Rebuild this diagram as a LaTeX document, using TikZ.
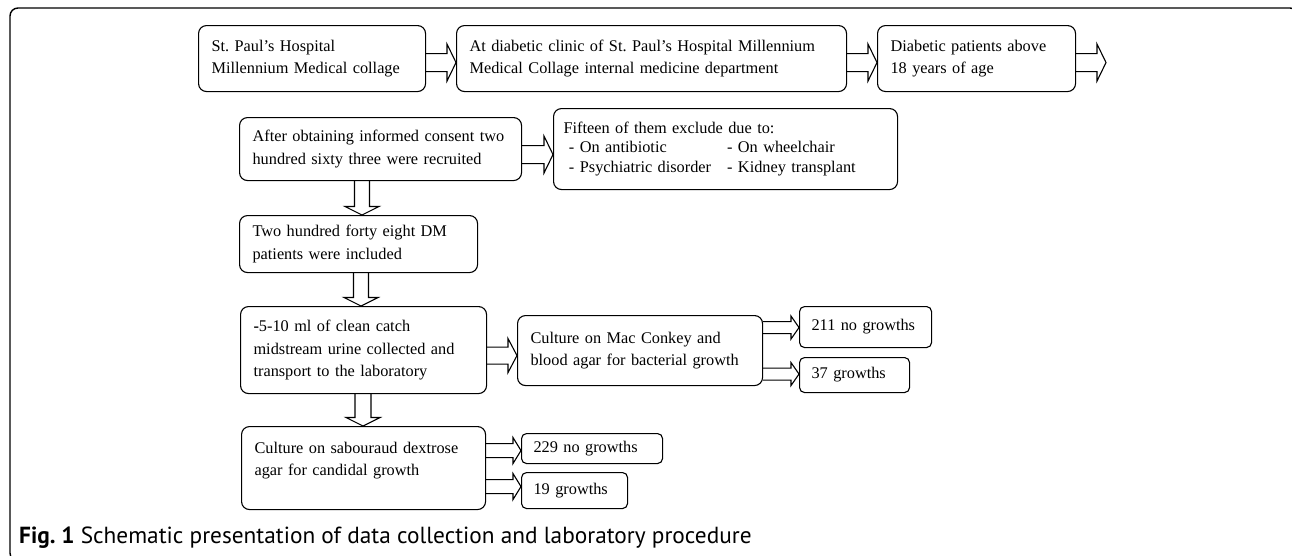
\documentclass[tikz,border=0pt]{standalone}
\usepackage{fontspec}
\setmainfont{Liberation Serif}
\newfontfamily\capfont{PT Sans}
\usepackage{tikz}
\usetikzlibrary{calc}

\newcommand{\harrow}[5]{\draw[arrowline] let \p1=(#1), \p2=(#2) in (\x1,\y1+#3pt) -- (\x2-#5pt,\y1+#3pt) -- (\x2-#5pt,\y1+#4pt) -- (\x2,\y1) -- (\x2-#5pt,\y1-#4pt) -- (\x2-#5pt,\y1-#3pt) -- (\x1,\y1-#3pt);}
\newcommand{\varrow}[5]{\draw[arrowline] let \p1=(#1), \p2=(#2) in (\x1-#3pt,\y1) -- (\x1-#3pt,\y2+#5pt) -- (\x1-#4pt,\y2+#5pt) -- (\x1,\y2) -- (\x1+#4pt,\y2+#5pt) -- (\x1+#3pt,\y2+#5pt) -- (\x1+#3pt,\y1);}

\begin{document}
\begin{tikzpicture}[x=1pt,y=-1pt,
  procbox/.style={draw=black,line width=1.1pt,rounded corners=8pt,anchor=north west,align=left,inner xsep=13pt,inner ysep=0pt,font=\fontsize{16.3}{22.5}\selectfont},
  smallbox/.style={procbox,rounded corners=5pt,inner xsep=12pt},
  arrowline/.style={draw=black,line width=1.1pt,line join=miter}]
\useasboundingbox (0,0) rectangle (1292,555);
\clip (0,0) rectangle (1292,555);
\draw[black,line width=1.4pt,rounded corners=8pt] (10,8) rectangle (1298,561);

\node[procbox,text width=201pt,minimum height=66pt] (hosp) at (198,25) {St.\ Paul's Hospital\\Millennium Medical collage};
\node[procbox,text width=364pt,minimum height=66pt] (clinic) at (456,25) {At diabetic clinic of St.\ Paul's Hospital Millennium\\Medical Collage internal medicine department};
\node[procbox,text width=172pt,minimum height=66pt] (adult) at (877,25) {Diabetic patients above\\18 years of age};
\coordinate (next) at (1106,62);

\node[procbox,text width=256pt,minimum height=63pt] (consent) at (239,117) {After obtaining informed consent two\\hundred sixty three were recruited};
\node[procbox,minimum height=81pt,inner xsep=10pt,text width=324pt,font=\fontsize{16.3}{19.5}\selectfont] (excl) at (553,108) {\setlength{\tabcolsep}{8pt}\begin{tabular}{@{}ll@{}}\multicolumn{2}{@{}l@{}}{Fifteen of them exclude due to:}\\ \ - On antibiotic & - On wheelchair\\ \ - Psychiatric disorder & - Kidney transplant\end{tabular}};

\node[procbox,text width=212pt,minimum height=57pt] (incl) at (239,215) {Two hundred forty eight DM\\patients were included};
\node[procbox,text width=220pt,minimum height=87pt] (urine) at (240,306) {\textbf{-}5-10 ml of clean catch\\midstream urine collected and\\transport to the laboratory};
\node[procbox,text width=219pt,minimum height=70pt] (bact) at (517,315) {Culture on Mac Conkey and\\blood agar for bacterial growth};
\node[smallbox,text width=108pt,minimum height=41pt] (bneg) at (799,306) {211 no growths};
\node[smallbox,text width=86pt,minimum height=35pt] (bpos) at (799,357) {37 growths};

\node[procbox,text width=218pt,minimum height=83pt] (cand) at (241,426) {Culture on sabouraud dextrose\\agar for candidal growth\\[-4pt]\mbox{}};
\node[smallbox,text width=117pt,minimum height=30pt] (cneg) at (521,433) {229 no growths};
\node[smallbox,text width=82pt,minimum height=36pt] (cpos) at (521,472) {19 growths};

\harrow{[yshift=-4pt]hosp.east}{clinic.west}{9}{18.5}{9}
\harrow{[yshift=-4pt]clinic.east}{adult.west}{9}{18.5}{9}
\harrow{[yshift=-4pt]adult.east}{next}{9}{18.5}{9}
\harrow{[yshift=-5.5pt]consent.east}{excl.west}{9}{18.5}{9}
\varrow{362,0 |- consent.south}{incl.north}{7.5}{17}{8.5}
\varrow{361,0 |- incl.south}{urine.north}{7.5}{17}{8.5}
\harrow{[yshift=-5.5pt]urine.east}{bact.west}{8.5}{17}{9}
\harrow{[yshift=23pt]bact.east}{bneg.west}{6}{11.5}{8}
\harrow{[yshift=-23.5pt]bact.east}{bpos.west}{6}{11.5}{8}
\varrow{363,0 |- urine.south}{cand.north}{8}{17}{8.5}
\harrow{[yshift=17.5pt]cand.east}{cneg.west}{7}{13}{8}
\harrow{[yshift=-18.5pt]cand.east}{cpos.west}{7}{13}{8}

\node[anchor=base west,inner sep=0pt,font=\capfont\fontsize{23.3}{26}\selectfont] (cap) at (19,543) {\textbf{Fig.\ 1} Schematic presentation of data collection and laboratory procedure};
\end{tikzpicture}
\end{document}
